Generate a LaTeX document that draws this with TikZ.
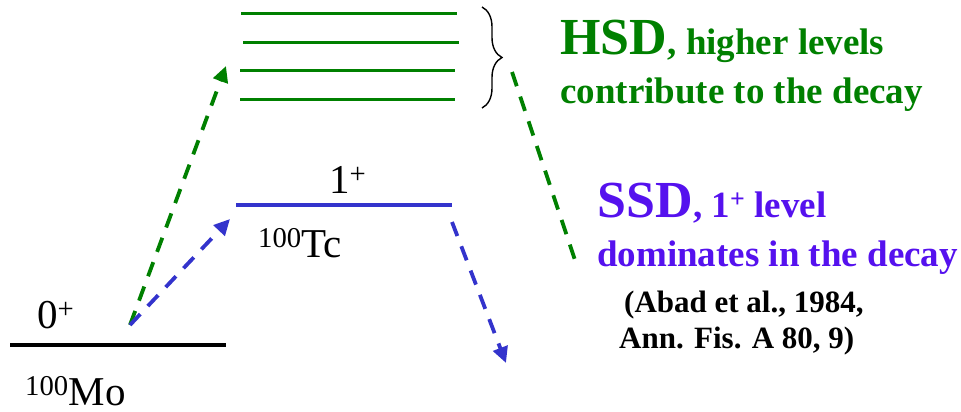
\documentclass[tikz,border=0pt]{standalone}
\usepackage{fontspec}
\setmainfont{Liberation Serif}
\usetikzlibrary{arrows.meta,decorations.pathreplacing}
\definecolor{lvgreen}{RGB}{0,128,0}
\definecolor{lvblue}{RGB}{51,51,204}
\definecolor{ssdcol}{RGB}{85,17,238}
\tikzset{
  lbl/.style={inner sep=0pt, anchor=base west},
  dasharrow/.style={line width=3.8pt, dash pattern=on 15pt off 11pt, -{Triangle[length=16pt,width=15pt]}},
  dashplain/.style={line width=3.8pt, dash pattern=on 15pt off 11pt},
  bigfont/.style={font=\fontsize{41}{41}\selectfont},
  boldtxt/.style={font=\fontsize{37}{37}\selectfont\bfseries},
  reftxt/.style={font=\fontsize{31}{31}\selectfont\bfseries}
}
\begin{document}
\begin{tikzpicture}[x=1pt,y=-1pt]
\useasboundingbox (0,0) rectangle (961,412);
% levels
\coordinate (mo1) at (10,345); \coordinate (mo2) at (226,345);
\coordinate (tc1) at (236,205); \coordinate (tc2) at (452,205);
\draw[line width=4pt] (mo1) -- (mo2);
\draw[lvblue, line width=4pt] (tc1) -- (tc2);
\foreach \y/\a/\b [count=\i] in {14/241/457, 43/243/459, 71/240/455, 99/240/455}{
  \coordinate (h\i a) at (\a,\y); \coordinate (h\i b) at (\b,\y);
  \draw[lvgreen, line width=3pt] (h\i a) -- (h\i b);
}
% brace
\coordinate (brtop) at (482,7); \coordinate (brbot) at (482,108);
\draw[line width=1.4pt, decorate, decoration={brace, amplitude=20pt, aspect=0.5}] (brtop) -- (brbot);
% labels
\node[lbl, bigfont] (zero) at (37,328) {0\textsuperscript{+}};
\node[lbl, bigfont] (mo) at (25,405) {\textsuperscript{100}Mo};
\node[lbl, bigfont] (one) at (329,193) {1\textsuperscript{+}};
\node[lbl, bigfont] (tc) at (258,257) {\textsuperscript{100}Tc};
% arrows
\coordinate (start) at (130,325);
\coordinate (gtip) at (226,66);
\coordinate (btip) at (230,219);
\coordinate (bstart) at (452,222);
\coordinate (bend) at (506,363);
\coordinate (gstart) at (512,72);
\coordinate (gend) at (577,266);
\draw[lvgreen, dasharrow] (start) -- (gtip);
\draw[lvblue, dasharrow] (start) -- (btip);
\draw[lvblue, dasharrow] (bstart) -- (bend);
\draw[lvgreen, dashplain] (gstart) -- (gend);
% texts
\node[lbl, text=lvgreen, font=\fontsize{52}{52}\selectfont\bfseries] (hsd) at (560,55) {HSD};
\node[lbl, text=lvgreen, boldtxt] (hsd1) at (hsd.base east) {, higher levels};
\node[lbl, text=lvgreen, boldtxt] (hsd2) at (560,103) {contribute to the decay};
\node[lbl, text=ssdcol, font=\fontsize{52}{52}\selectfont\bfseries] (ssd) at (597,217) {SSD};
\node[lbl, text=ssdcol, boldtxt] (ssd1) at (ssd.base east) {, 1\textsuperscript{+} level};
\node[lbl, text=ssdcol, boldtxt] (ssd2) at (597,266) {dominates in the decay};
\node[lbl, reftxt] (ref1) at (624,312) {(Abad et al., 1984,};
\node[lbl, reftxt] (ref2) at (619,348) {Ann. Fis. A 80, 9)};
\end{tikzpicture}
\end{document}
